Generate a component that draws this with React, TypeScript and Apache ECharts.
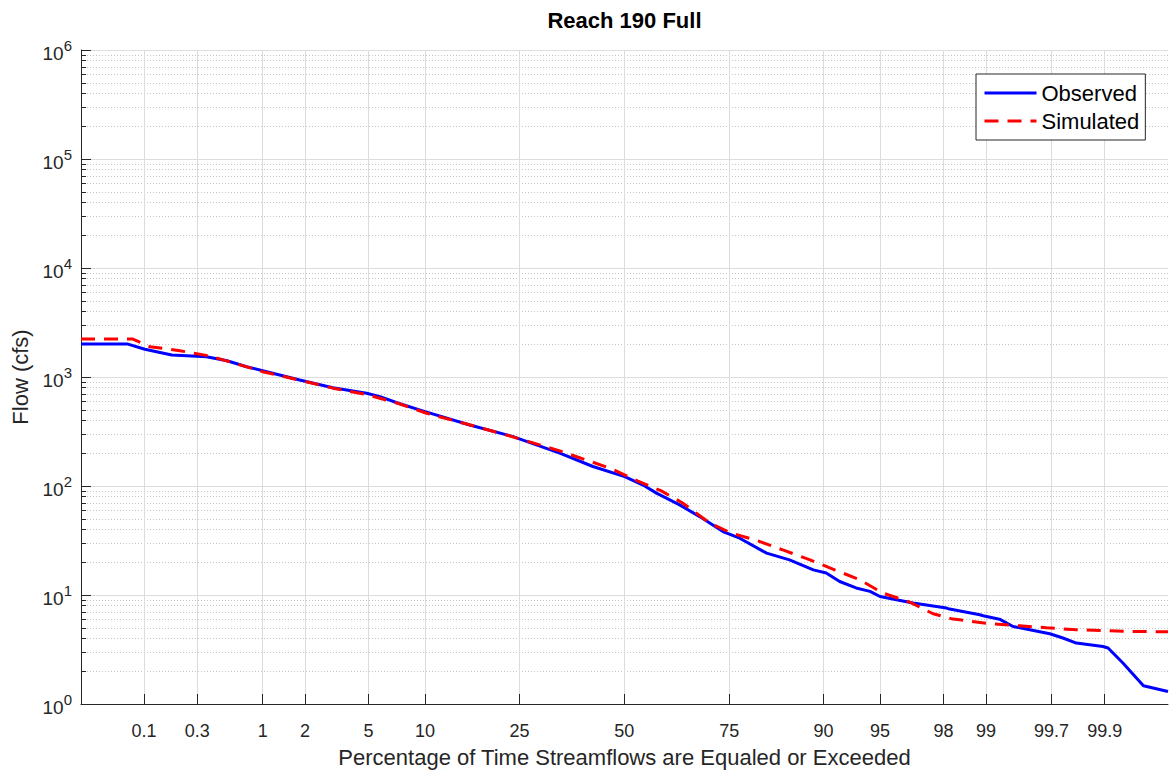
import React, { useEffect, useRef } from "react";
import * as echarts from "echarts";

// Exceedance probability tick marks (percent) and their labels
const exceedTicks = [0.1, 0.3, 1, 2, 5, 10, 25, 50, 75, 90, 95, 98, 99, 99.7, 99.9];
const exceedTickLabels = ["0.1", "0.3", "1", "2", "5", "10", "25", "50", "75", "90", "95", "98", "99", "99.7", "99.9"];

// Minor flow gridlines (2..9 x each decade)
const minorMultipliers = [2, 3, 4, 5, 6, 7, 8, 9];
const decadeBases = [1, 10, 100, 1000, 10000, 100000];

// Observed flow duration curve (percent exceeded, cfs)
const observedPct = [
  0.0237, 0.0704, 0.102, 0.18, 0.36, 0.53, 0.755, 1.07, 1.84, 3.04, 4.87, 5.8, 7.3, 10.0, 16.0, 23.7,
  33.9, 42.0, 50.1, 54.8, 58.2, 61.5, 63.9, 68.6, 73.7, 77.1, 82.0, 85.6, 88.8, 90.3, 91.7, 93.2,
  94.3, 95.0, 96.83, 98.09, 98.18, 98.89, 98.95, 99.21, 99.38, 99.545, 99.69, 99.761, 99.818, 99.896,
  99.907, 99.933, 99.958, 99.9765,
];
const observedFlow = [
  2005, 2005, 1795, 1592, 1535, 1410, 1242, 1119, 938, 798, 710, 660, 574, 481, 363, 284,
  200, 151, 122, 102, 86, 74.6, 67.1, 52.4, 38.2, 33.2, 24.2, 21.0, 17.0, 15.9, 13.3, 11.6,
  10.8, 9.69, 8.43, 7.59, 7.43, 6.59, 6.45, 6.0, 5.14, 4.8, 4.41, 4.03, 3.62, 3.37,
  3.26, 2.38, 1.47, 1.3,
];

// Simulated flow duration curve (percent exceeded, cfs)
const simulatedPct = [
  0.0237, 0.0786, 0.114, 0.2125, 0.384, 0.59, 1.0, 1.84, 3.04, 4.87, 7.25, 10.17, 17.1, 22.4, 33.9,
  40.4, 46.7, 53.5, 59.4, 64.7, 70.9, 75.5, 80.5, 84.6, 88.4, 91.2, 93.5, 95.2, 96.68, 97.65, 98.27,
  98.45, 99.06, 99.45, 99.67, 99.818, 99.896, 99.945, 99.9765,
];
const simulatedFlow = [
  2230, 2230, 1896, 1742, 1557, 1352, 1119, 935, 790, 690, 574, 465, 350, 294, 210,
  173, 144, 111, 90.2, 69.5, 45.6, 36.9, 31.4, 25.9, 21.0, 17.0, 13.8, 10.4, 8.61, 6.73, 6.01,
  5.93, 5.45, 5.22, 5.01, 4.8, 4.73, 4.63, 4.6,
];

// Inverse standard normal CDF (Acklam) used to build the probability axis
function probit(p: number): number {
  const a = [-3.969683028665376e1, 2.209460984245205e2, -2.759285104469687e2, 1.38357751867269e2, -3.066479806614716e1, 2.506628277459239];
  const b = [-5.447609879822406e1, 1.615858368580409e2, -1.556989798598866e2, 6.680131188771972e1, -1.328068155288572e1];
  const c = [-7.784894002430293e-3, -3.223964580411365e-1, -2.400758277161838, -2.549732539343734, 4.374664141464968, 2.938163982698783];
  const d = [7.784695709041462e-3, 3.224671290700398e-1, 2.445134137142996, 3.754408661907416];
  const plow = 0.02425;
  const phigh = 1 - plow;
  if (p < plow) {
    const q = Math.sqrt(-2 * Math.log(p));
    return (((((c[0] * q + c[1]) * q + c[2]) * q + c[3]) * q + c[4]) * q + c[5]) / ((((d[0] * q + d[1]) * q + d[2]) * q + d[3]) * q + 1);
  }
  if (p <= phigh) {
    const q = p - 0.5;
    const r = q * q;
    return ((((((a[0] * r + a[1]) * r + a[2]) * r + a[3]) * r + a[4]) * r + a[5]) * q) / (((((b[0] * r + b[1]) * r + b[2]) * r + b[3]) * r + b[4]) * r + 1);
  }
  const q = Math.sqrt(-2 * Math.log(1 - p));
  return -(((((c[0] * q + c[1]) * q + c[2]) * q + c[3]) * q + c[4]) * q + c[5]) / ((((d[0] * q + d[1]) * q + d[2]) * q + d[3]) * q + 1);
}

const FONT = "'Liberation Sans', Arial, Helvetica, sans-serif";
const TEXT = "#262626";

export default function App() {
  const ref = useRef<HTMLDivElement>(null);

  useEffect(() => {
    if (!ref.current) return;
    const chart = echarts.init(ref.current, undefined, { renderer: "svg" });

    const tickZ = exceedTicks.map((p) => probit(p / 100));
    const xMin = probit(observedPct[0] / 100);
    const xMax = probit(observedPct[observedPct.length - 1] / 100);
    const minorFlows: number[] = [];
    decadeBases.forEach((b) => minorMultipliers.forEach((m) => minorFlows.push(b * m)));

    const obsData = observedPct.map((p, i) => [probit(p / 100), observedFlow[i]]);
    const simData = simulatedPct.map((p, i) => [probit(p / 100), simulatedFlow[i]]);

    const labelFor = (v: number) => {
      for (let i = 0; i < tickZ.length; i++) {
        if (Math.abs(tickZ[i] - v) < 1e-6) return exceedTickLabels[i];
      }
      return "";
    };

    chart.setOption({
      animation: false,
      backgroundColor: "#ffffff",
      textStyle: { fontFamily: FONT },
      graphic: [
        {
          type: "text",
          x: 624.5,
          y: 20,
          style: {
            text: "Reach 190 Full",
            fontFamily: FONT,
            fontSize: 22,
            fontWeight: "bold",
            fill: "#000",
            textAlign: "center",
            textVerticalAlign: "middle",
          },
        },
      ],
      grid: { left: 81, right: 8, top: 50, bottom: 78, containLabel: false },
      legend: {
        data: ["Observed", "Simulated"],
        orient: "vertical",
        left: 976,
        top: 74,
        itemWidth: 52,
        itemHeight: 22,
        itemGap: 6,
        padding: [8, 6, 8, 7],
        backgroundColor: "#ffffff",
        borderColor: TEXT,
        borderWidth: 1,
        borderRadius: 0,
        itemStyle: { opacity: 0, borderWidth: 0 },
        lineStyle: { width: 3 },
        textStyle: { fontSize: 22, color: "#000", fontFamily: FONT },
      },
      xAxis: {
        type: "value",
        min: xMin,
        max: xMax,
        name: "Percentage of Time Streamflows are Equaled or Exceeded",
        nameLocation: "middle",
        nameGap: 42,
        nameTextStyle: { fontSize: 22, color: TEXT, fontFamily: FONT },
        axisLine: { show: true, onZero: false, lineStyle: { color: TEXT, width: 1 } },
        axisTick: { show: true, inside: true, length: 10, customValues: tickZ, lineStyle: { color: TEXT } },
        axisLabel: {
          customValues: tickZ,
          formatter: (v: number) => labelFor(v),
          fontSize: 18,
          color: TEXT,
          margin: 18,
          fontFamily: FONT,
        },
        splitLine: { show: true, lineStyle: { color: "#dcdcdc", width: 1 } },
      },
      yAxis: [
        {
          type: "log",
          logBase: 10,
          min: 1,
          max: 1e6,
          splitNumber: 6,
          name: "Flow (cfs)",
          nameLocation: "middle",
          nameGap: 50,
          nameTextStyle: { fontSize: 22, color: TEXT, fontFamily: FONT },
          axisLine: { show: true, onZero: false, lineStyle: { color: TEXT, width: 1 } },
          axisTick: { show: true, inside: true, length: 10, lineStyle: { color: TEXT } },
          axisLabel: {
            margin: 9,
            formatter: (v: number) => `{b|10}{s|${Math.round(Math.log10(v))}}`,
            rich: {
              b: { fontSize: 19, color: TEXT, fontFamily: FONT, lineHeight: 19, padding: [7, 0, 0, 0] },
              s: { fontSize: 15, color: TEXT, fontFamily: FONT, lineHeight: 15, padding: [0, 0, 10, 0] },
            },
          },
          splitLine: { show: true, lineStyle: { color: "#dcdcdc", width: 1 } },
          minorTick: { show: false },
        },
        {
          type: "log",
          logBase: 10,
          min: 1,
          max: 1e6,
          position: "left",
          axisLine: { show: false, onZero: false },
          axisLabel: { show: false },
          axisTick: { show: true, inside: true, length: 5, customValues: minorFlows, lineStyle: { color: TEXT } },
          splitLine: { show: true, lineStyle: { color: "#c4c4c4", width: 1, type: [1, 2] } },
        },
      ],
      series: [
        {
          name: "Observed",
          type: "line",
          data: obsData,
          symbol: "none",
          showSymbol: false,
          lineStyle: { color: "#0000ff", width: 3 },
          itemStyle: { color: "#0000ff" },
          z: 3,
        },
        {
          name: "Simulated",
          type: "line",
          data: simData,
          symbol: "none",
          showSymbol: false,
          lineStyle: { color: "#ff0000", width: 3, type: [14, 9] },
          itemStyle: { color: "#ff0000" },
          z: 4,
        },
      ],
    });

    return () => chart.dispose();
  }, []);

  return (
    <div
      ref={ref}
      style={{ position: "fixed", left: 0, top: 0, width: 1176, height: 782, background: "#fff" }}
    />
  );
}
